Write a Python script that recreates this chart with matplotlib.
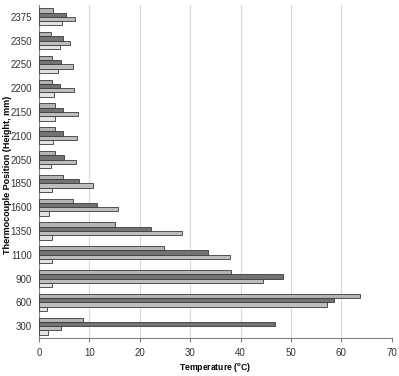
import numpy as np
import matplotlib
matplotlib.use("Agg")
import matplotlib.pyplot as plt

plt.rcParams['font.family'] = ['Liberation Sans', 'DejaVu Sans']

positions = ['300', '600', '900', '1100', '1350', '1600', '1850',
             '2050', '2100', '2150', '2200', '2250', '2350', '2375']

# four series per position, drawn top to bottom within each group
s1 = [8.8, 63.7, 38.1, 24.7, 15.0, 6.7, 4.7, 3.1, 3.1, 3.1, 2.65, 2.65, 2.45, 2.7]
s2 = [46.8, 58.5, 48.4, 33.5, 22.2, 11.4, 7.9, 4.9, 4.7, 4.7, 4.1, 4.3, 4.7, 5.3]
s3 = [4.4, 57.2, 44.4, 37.9, 28.3, 15.6, 10.6, 7.3, 7.5, 7.7, 6.9, 6.8, 6.2, 7.1]
s4 = [1.7, 1.5, 2.6, 2.6, 2.5, 2.0, 2.5, 2.45, 2.8, 3.1, 3.0, 3.8, 4.2, 4.6]

series = [s1, s2, s3, s4]
colors = ['#b3b3b3', '#737373', '#bdbdbd', '#e3e3e3']

fig = plt.figure(figsize=(3.99, 3.76), dpi=100)
ax = fig.add_axes([0.098, 0.101, 0.884, 0.886])

y = np.arange(len(positions))
h = 0.18
offs = [1.5 * h, 0.5 * h, -0.5 * h, -1.5 * h]
for vals, c, o in zip(series, colors, offs):
    ax.barh(y + o, vals, height=h, color=c, edgecolor='#3a3a3a', linewidth=0.6, zorder=3)

ax.set_xlim(0, 70)
ax.set_ylim(-0.5, len(positions) - 0.5)
ax.set_xticks(range(0, 71, 10))
ax.set_yticks(y)
ax.set_yticklabels(positions)
ax.grid(axis='x', color='#d9d9d9', linewidth=0.8, zorder=0)

for sp in ['top', 'right']:
    ax.spines[sp].set_visible(False)
ax.spines['bottom'].set_color('#808080')
ax.spines['left'].set_color('#808080')
ax.tick_params(axis='x', length=3, color='#808080', labelsize=7, labelcolor='#333333', pad=4)
ax.tick_params(axis='y', length=0, labelsize=7, labelcolor='#333333', pad=5)

ax.set_xlabel('Temperature ($\\mathregular{^o}$C)', fontsize=6.2, fontweight='bold', labelpad=2)
ax.set_ylabel('Thermocouple Position (Height, mm)', fontsize=6.5, fontweight='bold')
ax.yaxis.set_label_coords(-0.077, 0.49)

fig.savefig('out.png', dpi=100)
